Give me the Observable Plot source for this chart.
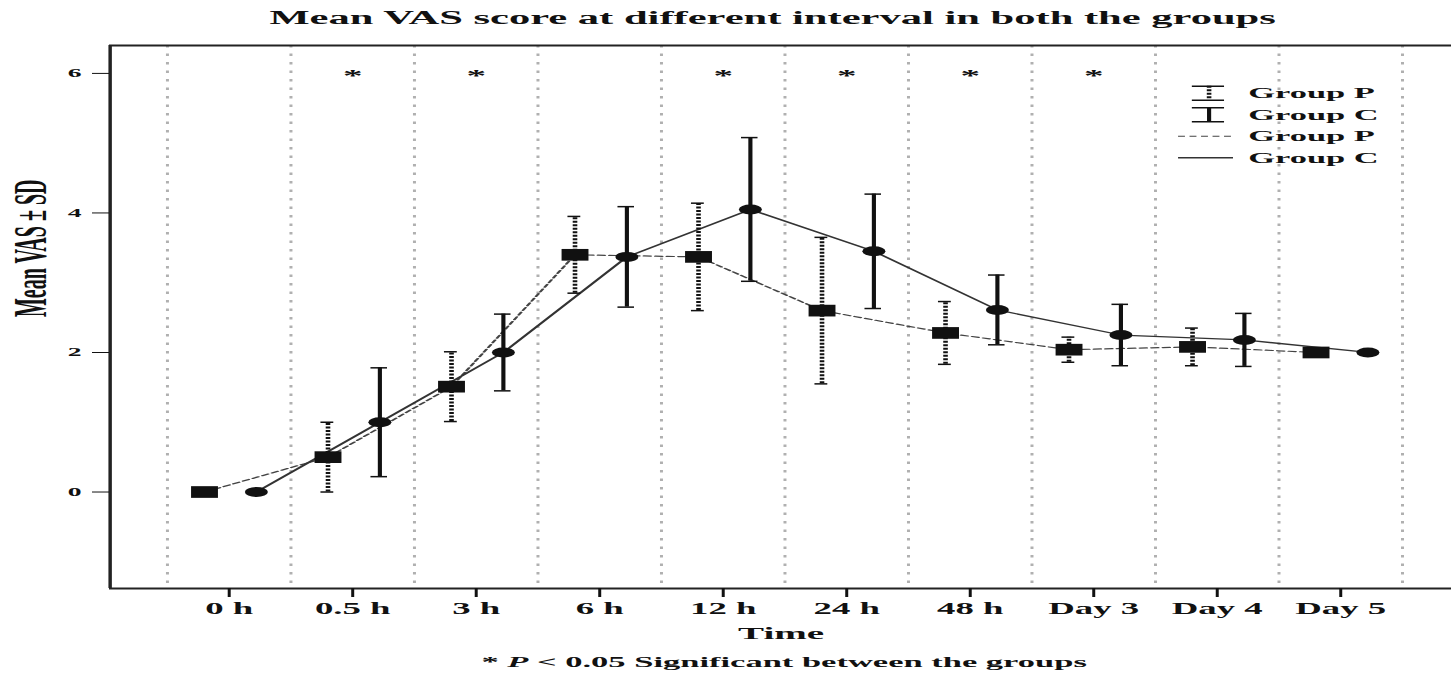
<!DOCTYPE html>
<html>
<head>
<meta charset="utf-8">
<script src="https://cdn.jsdelivr.net/npm/d3@7"></script>
<script src="https://cdn.jsdelivr.net/npm/@observablehq/plot@0.6"></script>
<style>
  html, body { margin: 0; padding: 0; background: #fff; overflow: hidden; }
  #wrap { position: relative; width: 631px; height: 676px; transform: scaleX(2.29952); transform-origin: 0 0;
          font-family: "Liberation Serif", "Times New Roman", serif; color: #111; }
  #title { height: 36px; line-height: 36px; text-align: center; font-size: 18.5px; font-weight: bold;
           padding-left: 41px; box-sizing: border-box; white-space: nowrap; }
  #chart svg, #legend svg { display: block; }
  #foot { height: 28px; line-height: 28px; text-align: center; font-size: 15px; font-weight: bold;
          padding-left: 51px; box-sizing: border-box; white-space: nowrap; }
  #legend { position: absolute; left: 505px; top: 82px; }
</style>
</head>
<body>
<div id="wrap">
  <div id="title">Mean VAS score at different interval in both the groups</div>
  <div id="chart"></div>
  <div id="foot">* <i>P</i> &lt; 0.05 Significant between the groups</div>
  <div id="legend"></div>
</div>
<script>
// ---- data ----
const times = ["0 h", "0.5 h", "3 h", "6 h", "12 h", "24 h", "48 h", "Day 3", "Day 4", "Day 5"];
const meanP = [0, 0.50, 1.51, 3.40, 3.37, 2.60, 2.28, 2.04, 2.08, 2.00];
const sdP   = [0, 0.50, 0.50, 0.55, 0.77, 1.05, 0.45, 0.18, 0.27, 0];
const meanC = [0, 1.00, 2.00, 3.37, 4.05, 3.45, 2.61, 2.25, 2.18, 2.00];
const sdC   = [0, 0.78, 0.55, 0.72, 1.03, 0.82, 0.50, 0.44, 0.38, 0];
const significant = ["0.5 h", "3 h", "12 h", "24 h", "48 h", "Day 3"];
const yTicks = [0, 2, 4, 6];
const legendLabels = ["Group P", "Group C", "Group P", "Group C"];

// ---- layout ----
const FONT = '"Liberation Serif", "Times New Roman", serif';
const offP = -0.2, offC = 0.22;          // dodge of the two groups within a time slot
const xDomain = [-0.964, 9.902];
const yDomain = [-1.383, 6.40];
const capP = 0.052, capC = 0.067;

const idx = times.map((_, i) => i);
const rowsP = times.map((t, i) => ({t, x: i + offP, m: meanP[i], sd: sdP[i]}));
const rowsC = times.map((t, i) => ({t, x: i + offC, m: meanC[i], sd: sdC[i]}));
const barsP = rowsP.filter(d => d.sd > 0);
const barsC = rowsC.filter(d => d.sd > 0);
const boundaries = [...idx.map(i => i - 0.5), times.length - 0.5];

const chart = Plot.plot({
  width: 631, height: 612,
  marginLeft: 47.4, marginRight: 0, marginTop: 9, marginBottom: 60,
  x: {type: "linear", domain: xDomain},
  y: {type: "linear", domain: yDomain},
  style: {fontFamily: FONT, fontSize: "12px", color: "#111", background: "transparent"},
  marks: [
    Plot.ruleX(boundaries, {stroke: "#b0b0b0", strokeWidth: 1.3, strokeDasharray: "2.5,6"}),
    Plot.ruleX([xDomain[0]], {stroke: "#222", strokeWidth: 1.5}),
    Plot.ruleY(yDomain, {stroke: "#222", strokeWidth: 1.8}),
    Plot.axisX(idx, {tickSize: 9, tickPadding: 5, tickFormat: i => times[i], label: null,
                     fontSize: 16, fontWeight: "bold", strokeWidth: 1.3}),
    Plot.axisY(yTicks, {tickSize: 7.4, tickPadding: 5, tickFormat: d => String(d), label: null,
                        fontSize: 12, fontWeight: "bold"}),
    Plot.text(["Mean VAS \u00b1 SD"], {frameAnchor: "left", dx: -34.4, rotate: -90, fontSize: 20, fontWeight: "bold"}),
    Plot.text(["Time"], {frameAnchor: "bottom", dy: 50, fontSize: 17, fontWeight: "bold"}),
    // connecting lines
    Plot.line(rowsP, {x: "x", y: "m", stroke: "#444", strokeWidth: 1.2, strokeDasharray: "3,2"}),
    Plot.line(rowsC, {x: "x", y: "m", stroke: "#333", strokeWidth: 1.3}),
    // error bars group P (dashed)
    Plot.ruleX(barsP, {x: "x", y1: d => d.m - d.sd, y2: d => d.m + d.sd, stroke: "#111", strokeWidth: 2, strokeDasharray: "2,1.5"}),
    Plot.ruleY(barsP, {y: d => d.m + d.sd, x1: d => d.x - capP, x2: d => d.x + capP, stroke: "#111", strokeWidth: 1.5}),
    Plot.ruleY(barsP, {y: d => d.m - d.sd, x1: d => d.x - capP, x2: d => d.x + capP, stroke: "#111", strokeWidth: 1.5}),
    // error bars group C (solid)
    Plot.ruleX(barsC, {x: "x", y1: d => d.m - d.sd, y2: d => d.m + d.sd, stroke: "#111", strokeWidth: 1.8}),
    Plot.ruleY(barsC, {y: d => d.m + d.sd, x1: d => d.x - capC, x2: d => d.x + capC, stroke: "#111", strokeWidth: 1.5}),
    Plot.ruleY(barsC, {y: d => d.m - d.sd, x1: d => d.x - capC, x2: d => d.x + capC, stroke: "#111", strokeWidth: 1.5}),
    // markers
    Plot.dot(rowsP, {x: "x", y: "m", symbol: "square", r: 6.6, fill: "#111", stroke: "none"}),
    Plot.dot(rowsC, {x: "x", y: "m", symbol: "circle", r: 5, fill: "#111", stroke: "none"}),
    // significance stars
    Plot.text(significant, {x: d => times.indexOf(d), frameAnchor: "top", dy: 23, text: () => "*", fontSize: 17, fontWeight: "bold"})
  ]
});
document.getElementById("chart").append(chart);

// ---- legend ----
const iconX = 20.3, iconHalf = 7, iconH = 0.33, lineX1 = 7.3, lineX2 = 31.2, textX = 37.3;
const legRows = legendLabels.map((label, i) => ({label, i}));
const legend = Plot.plot({
  width: 126, height: 86, margin: 0,
  x: {type: "linear", domain: [0, 126], axis: null},
  y: {type: "linear", domain: [-0.5, 3.5], reverse: true, axis: null},
  style: {fontFamily: FONT, color: "#111", background: "transparent"},
  marks: [
    // error bar icons
    Plot.ruleX([legRows[0]], {x: () => iconX, y1: d => d.i - iconH, y2: d => d.i + iconH, stroke: "#111", strokeWidth: 2, strokeDasharray: "2,1.5"}),
    Plot.ruleX([legRows[1]], {x: () => iconX, y1: d => d.i - iconH, y2: d => d.i + iconH, stroke: "#111", strokeWidth: 1.8}),
    Plot.ruleY(legRows.slice(0, 2), {y: d => d.i - iconH, x1: () => iconX - iconHalf, x2: () => iconX + iconHalf, stroke: "#111", strokeWidth: 1.5}),
    Plot.ruleY(legRows.slice(0, 2), {y: d => d.i + iconH, x1: () => iconX - iconHalf, x2: () => iconX + iconHalf, stroke: "#111", strokeWidth: 1.5}),
    // line samples
    Plot.ruleY([legRows[2]], {y: "i", x1: () => lineX1, x2: () => lineX2, stroke: "#444", strokeWidth: 1.2, strokeDasharray: "3,2"}),
    Plot.ruleY([legRows[3]], {y: "i", x1: () => lineX1, x2: () => lineX2, stroke: "#333", strokeWidth: 1.3}),
    Plot.text(legRows, {x: () => textX, y: "i", text: "label", textAnchor: "start", fontSize: 15, fontWeight: "bold"})
  ]
});
document.getElementById("legend").append(legend);
</script>
</body>
</html>
